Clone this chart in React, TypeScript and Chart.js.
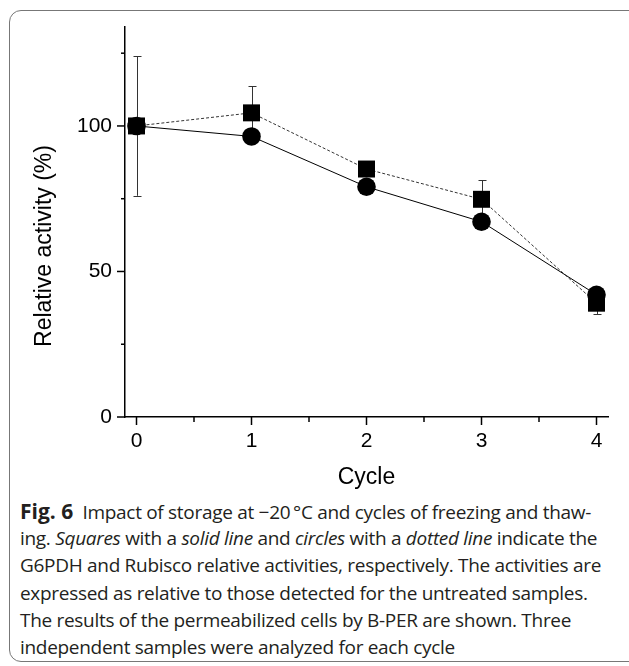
import React, { useEffect, useRef } from "react";
import { Chart, registerables } from "chart.js";

Chart.register(...registerables);

const cycles = [0, 1, 2, 3, 4];
const g6pdh = [100, 104.5, 85.2, 74.8, 39.1]; // squares, dotted line
const g6pdhErr = [24, 9.2, 2, 6.5, 3.7];
const rubisco = [100, 96.4, 79.1, 67.1, 42]; // circles, solid line
const rubiscoErr = [1, 1, 1, 1, 1];
const yTickLabels = [0, 50, 100];
const yMinorTicks = [0, 25, 50, 75, 100, 125];
const xTickLabels = [0, 1, 2, 3, 4];
const xMinorTicks = [0, 0.5, 1, 1.5, 2, 2.5, 3, 3.5, 4];

const FONT = "'Liberation Sans', Arial, Helvetica, sans-serif";

const captionLines: { parts: { t: string; b?: boolean; i?: boolean }[] }[] = [
  { parts: [{ t: "Fig. 6", b: true }, { t: "\u2002Impact of storage at \u221220\u2009\u00b0C and cycles of freezing and thaw-" }] },
  { parts: [{ t: "ing. " }, { t: "Squares", i: true }, { t: " with a " }, { t: "solid line", i: true }, { t: " and " }, { t: "circles", i: true }, { t: " with a " }, { t: "dotted line", i: true }, { t: " indicate the" }] },
  { parts: [{ t: "G6PDH and Rubisco relative activities, respectively. The activities are" }] },
  { parts: [{ t: "expressed as relative to those detected for the untreated samples." }] },
  { parts: [{ t: "The results of the permeabilized cells by B-PER are shown. Three" }] },
  { parts: [{ t: "independent samples were analyzed for each cycle" }] },
];

export default function App() {
  const ref = useRef<HTMLCanvasElement>(null);
  useEffect(() => {
    if (!ref.current) return;
    let chart: any = null;
    let cancelled = false;
    const errPlugin = {
      id: "errbars",
      beforeDatasetsDraw(c: any) {
        const { ctx } = c;
        const xs = c.scales.x;
        const ys = c.scales.y;
        ctx.save();
        ctx.strokeStyle = "#333";
        ctx.lineWidth = 1;
        const draw = (vals: number[], errs: number[]) => {
          vals.forEach((v, i) => {
            const x = Math.round(xs.getPixelForValue(cycles[i])) + 0.5;
            const y1 = ys.getPixelForValue(v + errs[i]);
            const y2 = ys.getPixelForValue(v - errs[i]);
            ctx.beginPath();
            ctx.moveTo(x, y1);
            ctx.lineTo(x, y2);
            ctx.moveTo(x - 4, Math.round(y1) + 0.5);
            ctx.lineTo(x + 4, Math.round(y1) + 0.5);
            ctx.moveTo(x - 4, Math.round(y2) + 0.5);
            ctx.lineTo(x + 4, Math.round(y2) + 0.5);
            ctx.stroke();
          });
        };
        draw(g6pdh, g6pdhErr);
        draw(rubisco, rubiscoErr);
        ctx.restore();
      },
      afterDraw(c: any) {
        const { ctx, chartArea } = c;
        const xs = c.scales.x;
        const ys = c.scales.y;
        ctx.save();
        ctx.strokeStyle = "#000";
        ctx.lineWidth = 1.5;
        yMinorTicks.forEach((v) => {
          const y = ys.getPixelForValue(v);
          const len = v % 50 === 0 ? 8 : 4;
          ctx.beginPath();
          ctx.moveTo(chartArea.left - len, y);
          ctx.lineTo(chartArea.left, y);
          ctx.stroke();
        });
        xMinorTicks.forEach((v) => {
          const x = xs.getPixelForValue(v);
          const len = Number.isInteger(v) ? 8 : 5;
          ctx.beginPath();
          ctx.moveTo(x, chartArea.bottom);
          ctx.lineTo(x, chartArea.bottom + len);
          ctx.stroke();
        });
        ctx.fillStyle = "#000";
        ctx.font = `23px ${FONT}`;
        ctx.textAlign = "center";
        ctx.textBaseline = "middle";
        ctx.fillText("Cycle", (chartArea.left + chartArea.right) / 2, 478);
        ctx.translate(45, 246);
        ctx.rotate(-Math.PI / 2);
        ctx.fillText("Relative activity (%)", 0, 0);
        ctx.restore();
      },
    };
    const build = () => {
      if (cancelled || !ref.current) return;
      chart = new Chart(ref.current, {
        type: "line",
        data: {
          datasets: [
            {
              label: "G6PDH",
              data: cycles.map((c, i) => ({ x: c, y: g6pdh[i] })),
              borderColor: "#333",
              borderWidth: 1,
              borderDash: [3, 2],
              pointStyle: "rect",
              pointRadius: 12,
              pointBackgroundColor: "#000",
              pointBorderColor: "#000",
              pointBorderWidth: 0,
              fill: false,
            },
            {
              label: "Rubisco",
              data: cycles.map((c, i) => ({ x: c, y: rubisco[i] })),
              borderColor: "#000",
              borderWidth: 1,
              pointStyle: "circle",
              pointRadius: 9.3,
              pointBackgroundColor: "#000",
              pointBorderColor: "#000",
              pointBorderWidth: 0,
              fill: false,
            },
          ],
        },
        options: {
          animation: false,
          responsive: false,
          devicePixelRatio: 1,
          layout: { padding: { left: 0, right: 21, top: 27, bottom: 0 } },
          plugins: { legend: { display: false }, tooltip: { enabled: false } },
          scales: {
            x: {
              type: "linear",
              min: -0.1,
              max: 4.1,
              grid: { display: false, drawTicks: false },
              border: { display: true, color: "#000", width: 1.5 },
              afterBuildTicks: (s: any) => {
                s.ticks = xTickLabels.map((v) => ({ value: v }));
              },
              afterFit: (s: any) => {
                s.height = 495 - 417;
              },
              ticks: {
                padding: 12,
                maxRotation: 0,
                autoSkip: false,
                color: "#000",
                font: { family: FONT, size: 21 },
                callback: (v: any) => String(v),
              },
            },
            y: {
              type: "linear",
              min: 0,
              max: 134,
              grid: { display: false, drawTicks: false },
              border: { display: true, color: "#000", width: 1.5 },
              afterBuildTicks: (s: any) => {
                s.ticks = yTickLabels.map((v) => ({ value: v }));
              },
              afterFit: (s: any) => {
                s.width = 125;
              },
              ticks: {
                padding: 13,
                color: "#000",
                font: { family: FONT, size: 21 },
                callback: (v: any) => String(v),
              },
            },
          },
        },
        plugins: [errPlugin],
      } as any);
    };
    const fontsApi: any = (document as any).fonts;
    if (fontsApi && fontsApi.load) {
      Promise.all([
        fontsApi.load("21px 'Liberation Sans'"),
        fontsApi.load("23px 'Liberation Sans'"),
      ])
        .catch(() => null)
        .then(build);
    } else {
      build();
    }
    return () => {
      cancelled = true;
      if (chart) chart.destroy();
    };
  }, []);

  return (
    <div style={{ position: "fixed", left: 0, top: 0, width: 629, height: 666, overflow: "hidden", background: "#fff" }}>
      <div
        style={{
          position: "absolute",
          left: 9,
          top: 10,
          width: 660,
          height: 652,
          border: "1.5px solid #777",
          borderRadius: 12,
          boxSizing: "border-box",
        }}
      />
      <canvas ref={ref} width={629} height={495} style={{ position: "absolute", left: 0, top: 0, width: 629, height: 495 }} />
      <div style={{ position: "absolute", left: 20, top: 498, width: 605, fontFamily: "'Open Sans', 'Noto Sans', sans-serif", fontSize: 19, color: "#231f20", letterSpacing: -0.3 }}>
        {captionLines.map((ln, k) => (
          <div
            key={k}
            style={{
              height: 27.2,
              lineHeight: "27.2px",
              whiteSpace: "nowrap",
              textAlign: "left",
            }}
          >
            {ln.parts.map((p, j) => (
              <span
                key={j}
                style={{
                  fontWeight: p.b ? 700 : 400,
                  fontStyle: p.i ? "italic" : "normal",
                  fontSize: p.b ? 21 : undefined,
                  letterSpacing: p.b ? 0 : undefined,
                }}
              >
                {p.t}
              </span>
            ))}
          </div>
        ))}
      </div>
    </div>
  );
}
